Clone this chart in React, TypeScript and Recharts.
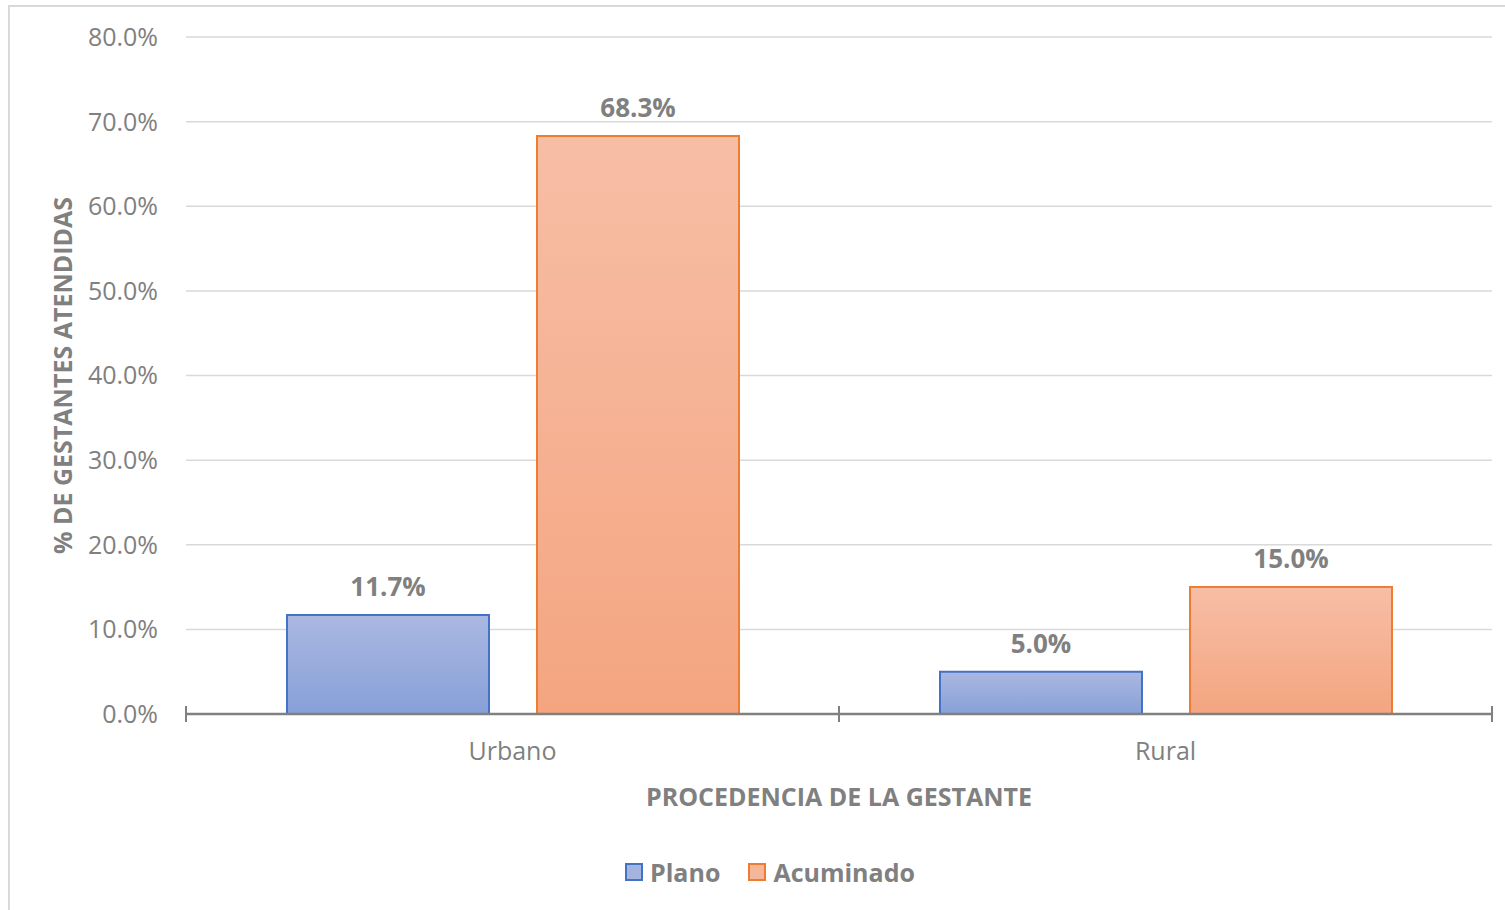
import React from 'react';
import { BarChart, Bar, XAxis, YAxis, CartesianGrid, LabelList, Label } from 'recharts';

const categories = ['Urbano', 'Rural'];
const planoValues = [0.117, 0.05];
const acuminadoValues = [0.683, 0.15];
const yTicks = [0, 0.1, 0.2, 0.3, 0.4, 0.5, 0.6, 0.7, 0.8];
const edgeTicks = [0, 1, 2];
const seriesNames = ['Plano', 'Acuminado'];

const FONT = '"Open Sans", "Noto Sans", sans-serif';
const GRAY = '#808080';

const data = categories.map((c, i) => ({ name: c, plano: planoValues[i], acuminado: acuminadoValues[i], edge: i }));

const pct = (v: number) => (v * 100).toFixed(1) + '%';

// vertical tick marks crossing the axis at category boundaries
const renderEdgeTick = (props: any) => {
    const { x, y } = props;
    return <line x1={x} x2={x} y1={y - 8} y2={y + 8} stroke={GRAY} strokeWidth={2} />;
};

const swatches = [
    { name: seriesNames[0], fill: '#a5b4df', stroke: '#4472c4' },
    { name: seriesNames[1], fill: '#f6b69a', stroke: '#ed7d31' },
];

export default function App() {
    return (
        <div style={{ position: 'absolute', left: 0, top: 0, width: 1505, height: 910, overflow: 'hidden', background: '#fff', fontFamily: FONT }}>
            <div style={{ position: 'absolute', left: 8, top: 5, width: 1600, height: 1000, border: '2px solid #d9d9d9' }} />
            <div style={{ position: 'absolute', left: 0, top: 0 }}>
                <BarChart
                    width={1505}
                    height={910}
                    data={data}
                    margin={{ top: 37, right: 13, bottom: 86, left: 0 }}
                    barCategoryGap={100}
                    barGap={48}
                >
                    <defs>
                        <linearGradient id="gradBlue" x1="0" y1="0" x2="0" y2="1">
                            <stop offset="0%" stopColor="#aab8e1" />
                            <stop offset="100%" stopColor="#87a0d8" />
                        </linearGradient>
                        <linearGradient id="gradOrange" x1="0" y1="0" x2="0" y2="1">
                            <stop offset="0%" stopColor="#f7bea6" />
                            <stop offset="100%" stopColor="#f4a580" />
                        </linearGradient>
                    </defs>
                    <CartesianGrid vertical={false} stroke="#d9d9d9" strokeWidth={1.5} />
                    <XAxis
                        xAxisId="cat"
                        dataKey="name"
                        height={110}
                        axisLine={{ stroke: GRAY, strokeWidth: 2.5 }}
                        tickLine={false}
                        tickSize={0}
                        tickMargin={28}
                        tick={{ fill: GRAY, fontSize: 25, fontFamily: FONT }}
                    >
                        <Label
                            content={(p: any) => {
                                const vb = p.viewBox;
                                return (
                                    <text x={vb.x + vb.width / 2} y={796} textAnchor="middle" dominantBaseline="central"
                                        fill={GRAY} fontSize={25} fontWeight="bold" fontFamily={FONT}>
                                        PROCEDENCIA DE LA GESTANTE
                                    </text>
                                );
                            }}
                        />
                    </XAxis>
                    <XAxis
                        xAxisId="edge"
                        dataKey="edge"
                        type="number"
                        domain={[0, categories.length]}
                        ticks={edgeTicks}
                        allowDataOverflow
                        orientation="top"
                        mirror
                        height={1}
                        axisLine={false}
                        tickLine={false}
                        tickSize={0}
                        tickMargin={0}
                        interval={0}
                        tick={(p: any) => renderEdgeTick({ ...p, y: 714 })}
                    />
                    <YAxis
                        width={186}
                        domain={[0, 0.8]}
                        ticks={yTicks}
                        tickFormatter={pct}
                        axisLine={false}
                        tickLine={false}
                        tickSize={0}
                        tickMargin={28}
                        tick={{ fill: GRAY, fontSize: 25, fontFamily: FONT }}
                    >
                        <Label
                            content={(p: any) => {
                                const vb = p.viewBox;
                                const cy = vb.y + vb.height / 2;
                                return (
                                    <text x={62} y={cy} transform={`rotate(-90, 62, ${cy})`} textAnchor="middle" dominantBaseline="central"
                                        fill={GRAY} fontSize={25} fontWeight="bold" fontFamily={FONT}>
                                        % DE GESTANTES ATENDIDAS
                                    </text>
                                );
                            }}
                        />
                    </YAxis>
                    <Bar xAxisId="cat" dataKey="plano" name={seriesNames[0]} barSize={202} fill="url(#gradBlue)" stroke="#4472c4" strokeWidth={2} isAnimationActive={false}>
                        <LabelList dataKey="plano" position="top" offset={19} formatter={(v: any) => pct(Number(v))}
                            fill={GRAY} fontSize={26} fontWeight="bold" fontFamily={FONT} />
                    </Bar>
                    <Bar xAxisId="cat" dataKey="acuminado" name={seriesNames[1]} barSize={202} fill="url(#gradOrange)" stroke="#ed7d31" strokeWidth={2} isAnimationActive={false}>
                        <LabelList dataKey="acuminado" position="top" offset={19} formatter={(v: any) => pct(Number(v))}
                            fill={GRAY} fontSize={26} fontWeight="bold" fontFamily={FONT} />
                    </Bar>
                </BarChart>
            </div>
            <div style={{ position: 'absolute', left: 0, width: 1540, top: 854, height: 36, display: 'flex', justifyContent: 'center', alignItems: 'center', gap: 28 }}>
                {swatches.map(s => (
                    <div key={s.name} style={{ display: 'flex', alignItems: 'center', gap: 7 }}>
                        <div style={{ width: 14, height: 14, background: s.fill, border: `2px solid ${s.stroke}` }} />
                        <span style={{ color: GRAY, fontSize: 25, fontWeight: 'bold', fontFamily: FONT }}>{s.name}</span>
                    </div>
                ))}
            </div>
        </div>
    );
}
